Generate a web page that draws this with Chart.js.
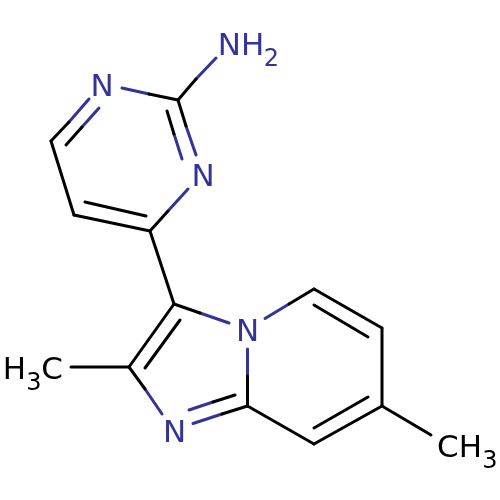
<!DOCTYPE html>
<html>
<head>
<meta charset="utf-8">
<title>Molecule</title>
<script src="https://cdn.jsdelivr.net/npm/chart.js@4"></script>
<style>
  html, body { margin: 0; padding: 0; background: #fff; }
  canvas { display: block; }
</style>
</head>
<body>
<canvas id="mol" width="500" height="500"></canvas>
<script>
// each bond piece is [x1, y1, x2, y2] in picture units
const blackBonds = [
  [178, 100, 196, 79], [149, 94, 178, 100], [178, 100, 186, 126],
  [167, 111, 174, 134], [168, 211, 150, 231], [150, 231, 74, 215],
  [146, 216, 85, 202], [74, 215, 51, 141], [51, 141, 69, 122],
  [66, 145, 82, 127], [150, 231, 174, 304], [174, 304, 200, 313],
  [247.5, 376, 247.5, 406], [247.5, 406, 222, 414], [235, 395, 213, 402],
  [145, 389, 129, 367], [129, 367, 174, 304], [145, 368, 180, 320],
  [129, 367, 71, 367], [289, 304, 314, 289], [314, 289, 382, 328],
  [314, 305, 368, 337], [382, 328, 382, 406], [382, 406, 314, 444],
  [368, 397, 314, 428], [314, 444, 247.5, 406], [382, 406, 431, 435]
];
const blueBonds = [
  [196, 79, 216, 58], [122, 88, 149, 94], [186, 126, 196, 155],
  [174, 134, 182, 159], [188, 189, 168, 211], [69, 122, 89, 99],
  [82, 127, 99, 108], [200, 313, 229, 323], [247.5, 349, 247.5, 376],
  [222, 414, 193, 423.5], [213, 402, 189, 410], [162, 414, 145, 389],
  [265, 318.5, 289, 304]
];

// [text, x centre, baseline y]
const blueLabels = [
  ['N', 102, 95.5], ['N', 203, 185.5], ['N', 247.5, 340.5],
  ['N', 174.5, 441.5], ['NH', 241, 55]
];
const blueSubs = [['2', 271.5, 65.5]];
const blackLabels = [['H', 14.5, 378.5], ['C', 52, 378.5], ['CH', 459.5, 456.5]];
const blackSubs = [['3', 34, 389.5], ['3', 490, 467.5]];

const BLUE = '#333399';
const BLACK = '#000000';

function bondSet(bond, color) {
  return {
    data: [{ x: bond[0], y: bond[1] }, { x: bond[2], y: bond[3] }],
    showLine: true,
    borderColor: color,
    borderWidth: 3,
    borderCapStyle: 'round',
    pointRadius: 0,
    pointHoverRadius: 0
  };
}

const atomText = {
  id: 'atomText',
  afterDatasetsDraw(chart) {
    const ctx = chart.ctx;
    const put = (rows, color, size) => {
      ctx.fillStyle = color;
      ctx.font = size + 'px "DejaVu Sans"';
      ctx.textAlign = 'center';
      ctx.textBaseline = 'alphabetic';
      for (let r of rows) {
        ctx.fillText(r[0], chart.scales.x.getPixelForValue(r[1]), chart.scales.y.getPixelForValue(r[2]));
      }
    };
    ctx.save();
    put(blueLabels, BLUE, 31);
    put(blueSubs, BLUE, 24);
    put(blackLabels, BLACK, 31);
    put(blackSubs, BLACK, 24);
    ctx.restore();
  }
};

new Chart(document.getElementById('mol').getContext('2d'), {
  type: 'scatter',
  data: {
    datasets: [
      ...blackBonds.map(b => bondSet(b, BLACK)),
      ...blueBonds.map(b => bondSet(b, BLUE))
    ]
  },
  options: {
    responsive: false,
    animation: false,
    layout: { padding: 0 },
    plugins: { legend: { display: false }, tooltip: { enabled: false } },
    scales: {
      x: { type: 'linear', min: 0, max: 500, display: false },
      y: { type: 'linear', min: 0, max: 500, reverse: true, display: false }
    }
  },
  plugins: [atomText]
});
</script>
</body>
</html>
